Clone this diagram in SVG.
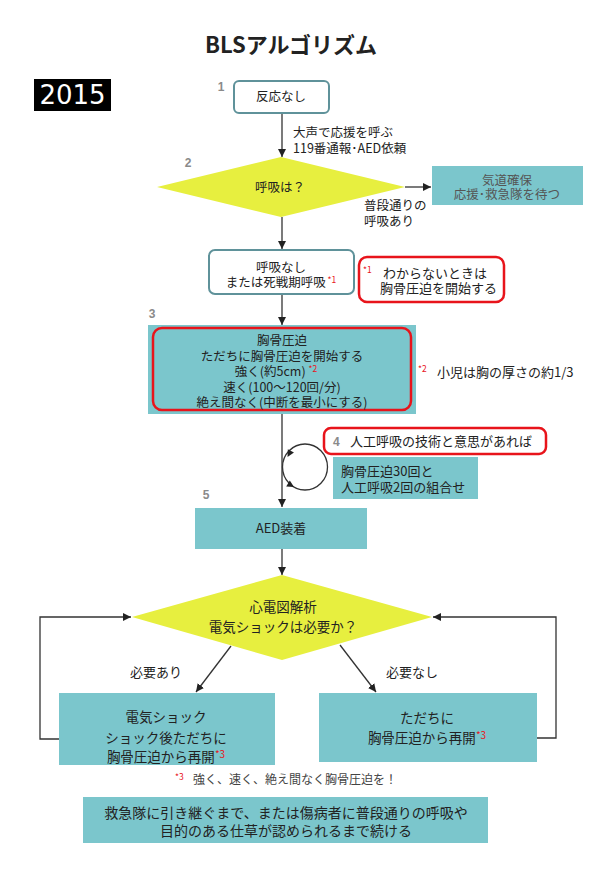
<svg xmlns="http://www.w3.org/2000/svg" width="590" height="879" viewBox="0 0 590 879">
<style>
text{font-family:"Noto Sans CJK JP","Noto Sans",sans-serif;fill:#222;font-size:12.5px}
.c{text-anchor:middle}
.num{fill:#8a8a8a;font-weight:bold;font-size:12px;font-family:"Liberation Sans","Noto Sans",sans-serif}
.teal{fill:#7bc6cc;stroke:none}
.wbox{fill:#fff;stroke:#5f929a;stroke-width:2}
.red{fill:none;stroke:#e8141b;stroke-width:2.5}
.dia{fill:#e7ef3f;stroke:none}
.ln{fill:none;stroke:#333;stroke-width:1.3}
.r{fill:#e8141b;font-size:8.5px}
.g{fill:#555}
</style>
<defs>
<marker id="arr" markerWidth="8" markerHeight="8" refX="8" refY="4" orient="auto" markerUnits="userSpaceOnUse">
<path d="M0,0 L8,4 L0,8 Z" fill="#222"/>
</marker>
</defs>
<rect width="590" height="879" fill="#fff"/>
<g id="title"><text x="291" y="53" class="c" style="font-size:22px;font-weight:bold">BLSアルゴリズム</text></g>
<g id="year"><rect x="34" y="79" width="77" height="32" fill="#000"/><text x="72.5" y="104" class="c" style="fill:#fff;font-size:26px;font-family:'DejaVu Sans',sans-serif">2015</text></g>

<g id="connectors">
<line class="ln" x1="282" y1="113" x2="282" y2="157" marker-end="url(#arr)"/>
<line class="ln" x1="405" y1="187" x2="431" y2="187" marker-end="url(#arr)"/>
<line class="ln" x1="282" y1="217" x2="282" y2="249" marker-end="url(#arr)"/>
<line class="ln" x1="282" y1="295" x2="282" y2="325" marker-end="url(#arr)"/>
<line class="ln" x1="282" y1="414" x2="282" y2="507" marker-end="url(#arr)"/>
<line class="ln" x1="282" y1="549" x2="282" y2="575" marker-end="url(#arr)"/>
<line class="ln" x1="231" y1="646" x2="196" y2="692" marker-end="url(#arr)"/>
<line class="ln" x1="340" y1="645" x2="376" y2="692" marker-end="url(#arr)"/>
<polyline class="ln" points="59,739 40,739 40,617 131,617" marker-end="url(#arr)"/>
<polyline class="ln" points="537,738 556,738 556,617 433,617" marker-end="url(#arr)"/>
<ellipse class="ln" cx="305" cy="467" rx="22.5" ry="23"/>
<polygon points="0,0 -7,-3.5 -7,3.5" fill="#222" transform="translate(287.5,457) rotate(119)"/>
<polygon points="0,0 -7,-3.5 -7,3.5" fill="#222" transform="translate(294,487) rotate(31)"/>
</g>

<g id="n1"><text x="221" y="91" class="num c">1</text><rect class="wbox" x="234" y="81" width="95" height="32" rx="5"/><text x="281" y="101" class="c">反応なし</text></g>
<g id="call"><text x="293" y="136.5">大声で応援を呼ぶ</text><text x="293" y="152.5">119番通報･AED依頼</text></g>
<g id="n2"><text x="188" y="167" class="num c">2</text><polygon class="dia" points="157,187 281,157 405,187 281,217"/><text x="280" y="191.5" class="c">呼吸は？</text></g>
<g id="airway"><rect class="teal" x="432" y="166" width="151" height="39"/><text x="507" y="184.5" class="c g">気道確保</text><text x="507" y="198.5" class="c g">応援･救急隊を待つ</text></g>
<g id="normal"><text x="364" y="209.5">普段通りの</text><text x="364" y="225.5">呼吸あり</text></g>
<g id="nobreath"><rect class="wbox" x="209" y="250" width="145" height="44" rx="6"/><text x="281" y="271.5" class="c">呼吸なし</text><text x="281" y="287" class="c">または死戦期呼吸<tspan class="r" dy="-4"> *1</tspan></text></g>
<g id="note1"><rect class="red" x="359" y="257" width="145" height="45" rx="8"/><text x="363" y="273" class="r">*1</text><text x="383" y="277.5" style="font-size:13px">わからないときは</text><text x="380" y="293" style="font-size:13px">胸骨圧迫を開始する</text></g>
<g id="n3"><text x="152" y="318" class="num c">3</text><rect class="teal" x="148" y="325" width="268" height="89"/><rect class="red" x="153" y="328" width="258" height="82" rx="9"/>
<text x="282" y="344.5" class="c">胸骨圧迫</text>
<text x="282" y="360.5" class="c">ただちに胸骨圧迫を開始する</text>
<text x="276" y="375.5" class="c">強く(約5cm) <tspan class="r" dy="-4">*2</tspan></text>
<text x="282" y="391.5" class="c">速く(100～120回/分)</text>
<text x="282" y="406.5" class="c">絶え間なく(中断を最小にする)</text></g>
<g id="note2"><text x="418" y="372" class="r">*2</text><text x="437" y="376.5" style="font-size:13px">小児は胸の厚さの約1/3</text></g>
<g id="n4"><rect class="red" x="324" y="428" width="222" height="26" rx="7"/><text x="333" y="446" class="num">4</text><text x="350" y="446" style="font-size:13px">人工呼吸の技術と意思があれば</text></g>
<g id="cpr"><rect class="teal" x="333" y="457" width="145" height="42"/><text x="341" y="475.5" style="font-size:13px">胸骨圧迫30回と</text><text x="341" y="491.5" style="font-size:13px">人工呼吸2回の組合せ</text></g>
<g id="n5"><text x="206" y="499" class="num c">5</text><rect class="teal" x="195" y="508" width="172" height="41"/><text x="281" y="533" class="c" style="font-size:13px">AED装着</text></g>
<g id="ecg"><polygon class="dia" points="132,617 282,575 432,617 282,660"/><text x="283" y="612" class="c" style="font-size:13.5px">心電図解析</text><text x="283" y="632" class="c" style="font-size:13.5px">電気ショックは必要か？</text></g>
<g id="lab1"><text x="156" y="677" class="c" style="font-size:13px">必要あり</text></g>
<g id="lab2"><text x="412" y="677" class="c" style="font-size:13px">必要なし</text></g>
<g id="shock"><rect class="teal" x="59" y="693" width="216" height="72"/><text x="166" y="722" class="c" style="font-size:13.5px">電気ショック</text><text x="166" y="742.5" class="c" style="font-size:13.5px">ショック後ただちに</text><text x="166" y="762" class="c" style="font-size:13.5px">胸骨圧迫から再開<tspan class="r" dy="-4" style="font-size:10px">*3</tspan></text></g>
<g id="resume"><rect class="teal" x="319" y="693" width="218" height="69"/><text x="427" y="723" class="c" style="font-size:13.5px">ただちに</text><text x="427" y="743" class="c" style="font-size:13.5px">胸骨圧迫から再開<tspan class="r" dy="-4" style="font-size:10px">*3</tspan></text></g>
<g id="note3"><text x="175" y="780" class="r">*3</text><text x="193" y="784" style="font-size:12px;fill:#444">強く、速く、絶え間なく胸骨圧迫を！</text></g>
<g id="continue"><rect class="teal" x="83" y="797" width="405" height="46"/><text x="286" y="818" class="c" style="font-size:14px">救急隊に引き継ぐまで、または傷病者に普段通りの呼吸や</text><text x="286" y="836" class="c" style="font-size:14px">目的のある仕草が認められるまで続ける</text></g>
</svg>
